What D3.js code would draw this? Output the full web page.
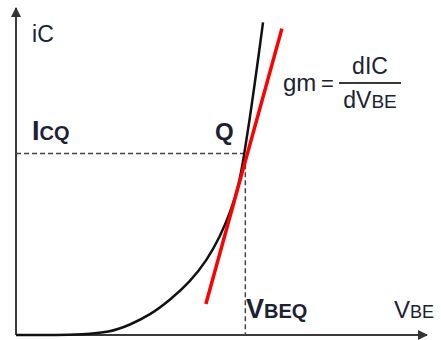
<!DOCTYPE html>
<meta charset="utf-8">
<script src="https://d3js.org/d3.v7.min.js"></script>
<style>
  body { margin: 0; background: #fff; }
  text { font-family: "Liberation Sans", Arial, sans-serif; fill: #1b2233; }
</style>
<div id="my_dataviz"></div>
<script>

  // transfer curve iC(VBE) (normalised units)
  var vbe = [0, 0.107, 0.156, 0.229, 0.277, 0.326, 0.375, 0.423, 0.465, 0.496, 0.521, 0.542, 0.555, 0.568, 0.581, 0.592, 0.601];
  var ic  = [0, 0, 0.002, 0.008, 0.031, 0.061, 0.107, 0.162, 0.229, 0.300, 0.373, 0.455, 0.550, 0.655, 0.770, 0.870, 0.956];

  // tangent line at Q (end points)
  var tanX = [0.462, 0.647];
  var tanY = [0.095, 0.937];

  // operating point Q
  var qX = 0.558, qY = 0.555;

  var width = 441, height = 340;
  var margin = { top: 8, right: 14, bottom: 5, left: 16 };

  var svg = d3.select("#my_dataviz")
    .append("svg")
    .attr("width", width)
    .attr("height", height);

  var x = d3.scaleLinear().domain([0, 1]).range([margin.left, width - margin.right]);
  var y = d3.scaleLinear().domain([0, 1]).range([height - margin.bottom, margin.top]);

  // arrow heads
  var defs = svg.append("defs");
  defs.append("marker")
    .attr("id", "arrow")
    .attr("viewBox", "0 0 10 10")
    .attr("refX", 9).attr("refY", 5)
    .attr("markerWidth", 5).attr("markerHeight", 5)
    .attr("markerUnits", "strokeWidth")
    .attr("orient", "auto")
    .append("path")
    .attr("d", "M0,0 L10,5 L0,10 z")
    .attr("fill", "#333");

  // axes
  svg.append("line")
    .attr("x1", x(0)).attr("y1", y(0))
    .attr("x2", x(0)).attr("y2", y(1))
    .attr("stroke", "#3a3a3a").attr("stroke-width", 2)
    .attr("marker-end", "url(#arrow)");
  svg.append("line")
    .attr("x1", x(0)).attr("y1", y(0))
    .attr("x2", x(1)).attr("y2", y(0))
    .attr("stroke", "#3a3a3a").attr("stroke-width", 2)
    .attr("marker-end", "url(#arrow)");

  // dashed guides to Q
  svg.append("path")
    .attr("d", "M" + x(0) + "," + y(qY) + "H" + x(qX) + "V" + y(0))
    .attr("fill", "none")
    .attr("stroke", "#444")
    .attr("stroke-width", 1.5)
    .attr("stroke-dasharray", "5 3");

  // the curve
  var pts = vbe.map(function (d, i) { return [d, ic[i]]; });
  var line = d3.line()
    .x(function (d) { return x(d[0]); })
    .y(function (d) { return y(d[1]); })
    .curve(d3.curveBasis);
  svg.append("path")
    .datum(pts)
    .attr("fill", "none")
    .attr("stroke", "#111")
    .attr("stroke-width", 2.5)
    .attr("d", line);

  // tangent
  svg.append("line")
    .attr("x1", x(tanX[0])).attr("y1", y(tanY[0]))
    .attr("x2", x(tanX[1])).attr("y2", y(tanY[1]))
    .attr("stroke", "#ff0000")
    .attr("stroke-width", 3.5);

  // labels
  var t;
  t = svg.append("text").attr("x", 32).attr("y", 42).style("font-size", "23px");
  t.append("tspan").text("i");
  t.append("tspan").text("C");

  t = svg.append("text").attr("x", 32).attr("y", 140).style("font-weight", "bold");
  t.append("tspan").style("font-size", "27px").text("I");
  t.append("tspan").style("font-size", "20px").text("CQ");

  svg.append("text").attr("x", 215).attr("y", 140)
    .style("font-weight", "bold").style("font-size", "24px").text("Q");

  t = svg.append("text").attr("x", 246).attr("y", 318).style("font-weight", "bold");
  t.append("tspan").style("font-size", "27px").text("V");
  t.append("tspan").style("font-size", "20px").text("BEQ");

  t = svg.append("text").attr("x", 394).attr("y", 318);
  t.append("tspan").style("font-size", "24px").text("V");
  t.append("tspan").style("font-size", "18px").text("BE");

  // gm = dIC / dVBE
  svg.append("text").attr("x", 283).attr("y", 91).style("font-size", "24px").text("gm");
  svg.append("text").attr("x", 321).attr("y", 91).style("font-size", "22px").text("=");
  svg.append("line")
    .attr("x1", 339).attr("x2", 401).attr("y1", 83).attr("y2", 83)
    .attr("stroke", "#3a3a3a").attr("stroke-width", 2);
  t = svg.append("text").attr("x", 370).attr("y", 74).attr("text-anchor", "middle").style("font-size", "23px");
  t.append("tspan").text("dI");
  t.append("tspan").text("C");
  t = svg.append("text").attr("x", 370).attr("y", 108).attr("text-anchor", "middle").style("font-size", "23px");
  t.append("tspan").text("dV");
  t.append("tspan").style("font-size", "19px").text("BE");

</script>
